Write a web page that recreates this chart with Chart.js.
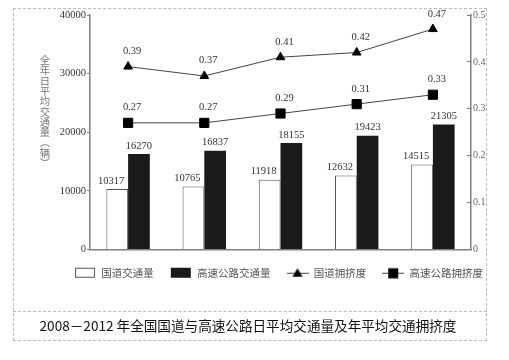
<!DOCTYPE html>
<html>
<head>
<meta charset="utf-8">
<script src="https://cdn.jsdelivr.net/npm/chart.js@4/dist/chart.umd.min.js"></script>
<style>
  html, body { margin: 0; padding: 0; background: #fff; }
  #wrap { position: relative; width: 509px; height: 360px; overflow: hidden; }
  #chart { position: absolute; left: 0; top: 0; }
  #frame { position: absolute; left: 13px; top: 8px; width: 474px; height: 333px; border: 1px dashed #bbb; box-sizing: border-box; }
  #sep { position: absolute; left: 13px; top: 311px; width: 474px; border-top: 1px dashed #bbb; }
  #caption { position: absolute; left: 13px; top: 315px; width: 470px; text-align: center; font: 13.6px "Noto Sans CJK SC", sans-serif; color: #111; }
  #ytitle { position: absolute; left: 39px; top: 55px; writing-mode: vertical-rl; text-orientation: upright; font: 10.3px "Noto Sans CJK SC", sans-serif; color: #777; line-height: 1; }
</style>
</head>
<body>
<div id="wrap">
  <canvas id="chart" width="509" height="300"></canvas>
  <div id="frame"></div>
  <div id="sep"></div>
  <div id="ytitle">全年日平均交通量（辆）</div>
  <div id="caption">2008－2012 年全国国道与高速公路日平均交通量及年平均交通拥挤度</div>
</div>
<script>
// data
const years = ['2008', '2009', '2010', '2011', '2012'];
const nationalVolume = [10317, 10765, 11918, 12632, 14515];
const expresswayVolume = [16270, 16837, 18155, 19423, 21305];
const nationalCongestion = [0.39, 0.37, 0.41, 0.42, 0.47];
const expresswayCongestion = [0.27, 0.27, 0.29, 0.31, 0.33];
const volumeTicks = [0, 10000, 20000, 30000, 40000];
const congestionTicks = [0, 0.1, 0.2, 0.3, 0.4, 0.5];

const seriesNames = ['国道交通量', '高速公路交通量', '国道拥挤度', '高速公路拥挤度'];

const INK = '#1a1a1a';
const LINE = '#444';
const AXIS = '#808080';
const serif = '"Liberation Serif", "DejaVu Serif", serif';

// small canvases used as legend markers
function legendIcon(kind) {
  const c = document.createElement('canvas');
  c.width = 22;
  c.height = 12;
  const g = c.getContext('2d');
  if (kind === 'whiteBar') {
    g.fillStyle = '#fff';
    g.strokeStyle = '#555';
    g.lineWidth = 1;
    g.fillRect(1.5, 1.5, 19, 9);
    g.strokeRect(1.5, 1.5, 19, 9);
  } else if (kind === 'blackBar') {
    g.fillStyle = INK;
    g.fillRect(1, 1, 20, 10);
  } else {
    g.strokeStyle = LINE;
    g.lineWidth = 1;
    g.beginPath();
    g.moveTo(0, 6.5);
    g.lineTo(22, 6.5);
    g.stroke();
    g.fillStyle = '#000';
    if (kind === 'triangle') {
      g.beginPath();
      g.moveTo(11, 1.5);
      g.lineTo(16, 10);
      g.lineTo(6, 10);
      g.closePath();
      g.fill();
    } else {
      g.fillRect(6, 1.5, 10, 10);
    }
  }
  return c;
}

const icons = [legendIcon('whiteBar'), legendIcon('blackBar'), legendIcon('triangle'), legendIcon('square')];

// value labels above bars and points
const valueLabels = {
  id: 'valueLabels',
  afterDatasetsDraw(chart) {
    const ctx = chart.ctx;
    ctx.save();
    ctx.textAlign = 'center';
    ctx.textBaseline = 'bottom';
    ctx.font = '10.5px ' + serif;
    ctx.fillStyle = '#333';
    chart.data.datasets.forEach((ds, i) => {
      const meta = chart.getDatasetMeta(i);
      meta.data.forEach((el, j) => {
        const v = ds.data[j];
        let dx = 0, dy = -3;
        if (i === 0) dx = -6;
        if (i >= 2) { dx = 4; dy = -10; }
        const txt = i >= 2 ? v.toFixed(2) : String(v);
        ctx.fillText(txt, el.x + dx, el.y + dy);
      });
    });
    ctx.restore();
  }
};

new Chart(document.getElementById('chart'), {
  data: {
    labels: years,
    datasets: [
      {
        type: 'bar',
        label: seriesNames[0],
        data: nationalVolume,
        yAxisID: 'y',
        backgroundColor: '#fff',
        borderColor: '#555',
        borderWidth: 1,
        categoryPercentage: 0.57,
        barPercentage: 1,
        order: 2,
      },
      {
        type: 'bar',
        label: seriesNames[1],
        data: expresswayVolume,
        yAxisID: 'y',
        backgroundColor: INK,
        borderWidth: 0,
        categoryPercentage: 0.57,
        barPercentage: 1,
        order: 2,
      },
      {
        type: 'line',
        label: seriesNames[2],
        data: nationalCongestion,
        yAxisID: 'y1',
        borderColor: LINE,
        borderWidth: 1,
        pointStyle: 'triangle',
        pointRadius: 5,
        pointBackgroundColor: '#000',
        pointBorderColor: '#000',
        tension: 0,
        order: 1,
      },
      {
        type: 'line',
        label: seriesNames[3],
        data: expresswayCongestion,
        yAxisID: 'y1',
        borderColor: LINE,
        borderWidth: 1,
        pointStyle: 'rect',
        pointRadius: 6.5,
        pointBackgroundColor: '#000',
        pointBorderColor: '#000',
        tension: 0,
        order: 1,
      },
    ],
  },
  options: {
    responsive: false,
    animation: false,
    layout: {
      padding: { left: 48, right: 0, top: 15, bottom: 12 },
    },
    plugins: {
      tooltip: { enabled: false },
      legend: {
        position: 'bottom',
        labels: {
          usePointStyle: true,
          pointStyleWidth: 22,
          boxHeight: 10,
          padding: 16,
          color: '#555',
          font: { size: 10.5, family: '"Noto Sans CJK SC", sans-serif' },
          generateLabels(chart) {
            return chart.data.datasets.map((ds, i) => ({
              text: ds.label,
              pointStyle: icons[i],
              fontColor: '#555',
              lineWidth: 0,
              datasetIndex: i,
              hidden: false,
            }));
          },
        },
      },
    },
    scales: {
      x: {
        type: 'category',
        offset: true,
        ticks: { display: false },
        grid: { display: false, drawTicks: false },
        border: { color: AXIS, width: 1.5 },
        afterFit(s) { s.height = 2; },
      },
      y: {
        position: 'left',
        min: volumeTicks[0],
        max: volumeTicks[volumeTicks.length - 1],
        afterBuildTicks(s) { s.ticks = volumeTicks.map(v => ({ value: v })); },
        ticks: {
          color: '#333',
          padding: 1,
          font: { size: 10.5, family: serif },
          callback: v => String(v),
        },
        grid: { display: true, drawOnChartArea: false, tickLength: 3, color: AXIS },
        border: { color: AXIS, width: 1.5 },
        afterFit(s) { s.width = 42; },
      },
      y1: {
        position: 'right',
        min: congestionTicks[0],
        max: congestionTicks[congestionTicks.length - 1],
        afterBuildTicks(s) { s.ticks = congestionTicks.map(v => ({ value: v })); },
        ticks: {
          color: '#666',
          padding: 6,
          font: { size: 10, family: serif },
          callback: v => String(v),
        },
        grid: { display: true, drawOnChartArea: false, tickLength: -4, color: AXIS },
        border: { color: AXIS, width: 1.5 },
        afterFit(s) { s.width = 38; },
      },
    },
  },
  plugins: [valueLabels],
});
</script>
</body>
</html>
